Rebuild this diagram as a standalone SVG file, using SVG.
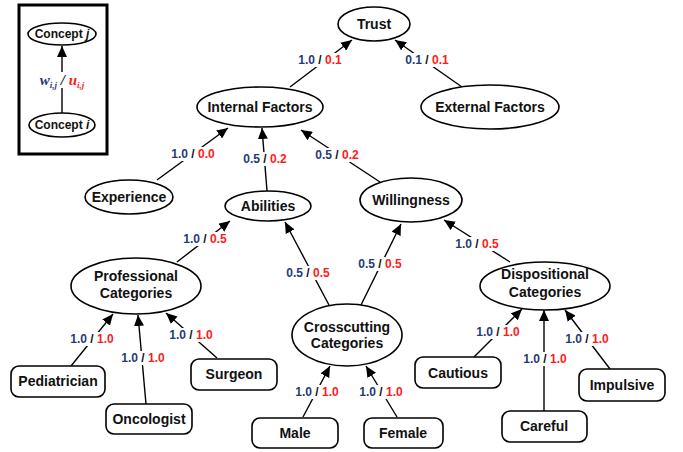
<svg xmlns="http://www.w3.org/2000/svg" width="683" height="452" viewBox="0 0 683 452">
<style>
.n{fill:#fff;stroke:#000;stroke-width:1.6}
.t{font-family:"Liberation Sans",Arial,sans-serif;font-weight:bold;font-size:14px;text-anchor:middle;fill:#111}
.s{font-size:12px}
.e{stroke:#000;stroke-width:1.4;fill:none}
.l{font-family:"Liberation Sans",Arial,sans-serif;font-weight:bold;font-size:12px;text-anchor:middle;fill:#111}
.b{fill:#1f3b78}.r{fill:#ff1a1a}
.bg{fill:#fff}
</style>
<defs>
<marker id="ah" markerUnits="userSpaceOnUse" markerWidth="12" markerHeight="10" refX="11" refY="5" orient="auto"><path d="M0,0 L11,5 L0,10 Z" fill="#000"/></marker>
</defs>
<rect width="683" height="452" fill="#fff"/>
<g id="legend">
<rect x="19" y="5" width="88" height="149" fill="#fff" stroke="#000" stroke-width="3"/>
<line class="e" x1="62" y1="113" x2="62" y2="46" marker-end="url(#ah)"/>
<rect class="bg" x="36" y="72" width="52" height="16"/>
<text x="62" y="85" font-family="'Liberation Serif','Times New Roman',serif" font-weight="bold" font-style="italic" font-size="15" text-anchor="middle"><tspan class="b">w<tspan font-size="9" dy="3">i,j</tspan></tspan><tspan dy="-3" fill="#111"> / </tspan><tspan class="r">u<tspan font-size="9" dy="3">i,j</tspan></tspan></text>
<ellipse class="n" cx="62" cy="34" rx="34" ry="11"/>
<text class="t s" x="62" y="38">Concept <tspan font-style="italic">j</tspan></text>
<ellipse class="n" cx="62" cy="125" rx="33" ry="12"/>
<text class="t s" x="62" y="129">Concept <tspan font-style="italic">i</tspan></text>
</g>
<g id="connectors">
<line class="e" x1="290" y1="87" x2="352" y2="40" marker-end="url(#ah)"/>
<line class="e" x1="462" y1="87" x2="395" y2="40" marker-end="url(#ah)"/>
<line class="e" x1="157" y1="180" x2="228" y2="128" marker-end="url(#ah)"/>
<line class="e" x1="267" y1="191" x2="262" y2="128" marker-end="url(#ah)"/>
<line class="e" x1="380" y1="182" x2="301" y2="130" marker-end="url(#ah)"/>
<line class="e" x1="177" y1="262" x2="230" y2="221" marker-end="url(#ah)"/>
<line class="e" x1="329" y1="305" x2="285" y2="222" marker-end="url(#ah)"/>
<line class="e" x1="361" y1="305" x2="401" y2="224" marker-end="url(#ah)"/>
<line class="e" x1="510" y1="262" x2="444" y2="220" marker-end="url(#ah)"/>
<line class="e" x1="71" y1="366" x2="113" y2="314" marker-end="url(#ah)"/>
<line class="e" x1="146" y1="404" x2="138" y2="315" marker-end="url(#ah)"/>
<line class="e" x1="217" y1="358" x2="166" y2="313" marker-end="url(#ah)"/>
<line class="e" x1="303" y1="417" x2="330" y2="366" marker-end="url(#ah)"/>
<line class="e" x1="397" y1="417" x2="366" y2="366" marker-end="url(#ah)"/>
<line class="e" x1="474" y1="357" x2="522" y2="309" marker-end="url(#ah)"/>
<line class="e" x1="544" y1="411" x2="544" y2="310" marker-end="url(#ah)"/>
<line class="e" x1="610" y1="369" x2="565" y2="310" marker-end="url(#ah)"/>
</g>
<g id="labels">
<rect class="bg" x="297" y="53" width="47" height="14"/><text class="l" x="320" y="64"><tspan class="b">1.0</tspan> / <tspan class="r">0.1</tspan></text>
<rect class="bg" x="404" y="53" width="47" height="14"/><text class="l" x="427" y="64"><tspan class="b">0.1</tspan> / <tspan class="r">0.1</tspan></text>
<rect class="bg" x="170" y="147" width="47" height="14"/><text class="l" x="193" y="158"><tspan class="b">1.0</tspan> / <tspan class="r">0.0</tspan></text>
<rect class="bg" x="242" y="152" width="47" height="14"/><text class="l" x="265" y="163"><tspan class="b">0.5</tspan> / <tspan class="r">0.2</tspan></text>
<rect class="bg" x="314" y="148" width="47" height="14"/><text class="l" x="337" y="159"><tspan class="b">0.5</tspan> / <tspan class="r">0.2</tspan></text>
<rect class="bg" x="182" y="232" width="47" height="14"/><text class="l" x="205" y="243"><tspan class="b">1.0</tspan> / <tspan class="r">0.5</tspan></text>
<rect class="bg" x="285" y="266" width="47" height="14"/><text class="l" x="308" y="277"><tspan class="b">0.5</tspan> / <tspan class="r">0.5</tspan></text>
<rect class="bg" x="357" y="257" width="47" height="14"/><text class="l" x="380" y="268"><tspan class="b">0.5</tspan> / <tspan class="r">0.5</tspan></text>
<rect class="bg" x="454" y="237" width="47" height="14"/><text class="l" x="477" y="248"><tspan class="b">1.0</tspan> / <tspan class="r">0.5</tspan></text>
<rect class="bg" x="69" y="332" width="47" height="14"/><text class="l" x="92" y="343"><tspan class="b">1.0</tspan> / <tspan class="r">1.0</tspan></text>
<rect class="bg" x="120" y="351" width="47" height="14"/><text class="l" x="143" y="362"><tspan class="b">1.0</tspan> / <tspan class="r">1.0</tspan></text>
<rect class="bg" x="168" y="328" width="47" height="14"/><text class="l" x="191" y="339"><tspan class="b">1.0</tspan> / <tspan class="r">1.0</tspan></text>
<rect class="bg" x="294" y="385" width="47" height="14"/><text class="l" x="317" y="396"><tspan class="b">1.0</tspan> / <tspan class="r">1.0</tspan></text>
<rect class="bg" x="358" y="385" width="47" height="14"/><text class="l" x="381" y="396"><tspan class="b">1.0</tspan> / <tspan class="r">1.0</tspan></text>
<rect class="bg" x="475" y="325" width="47" height="14"/><text class="l" x="498" y="336"><tspan class="b">1.0</tspan> / <tspan class="r">1.0</tspan></text>
<rect class="bg" x="522" y="352" width="47" height="14"/><text class="l" x="545" y="363"><tspan class="b">1.0</tspan> / <tspan class="r">1.0</tspan></text>
<rect class="bg" x="564" y="332" width="47" height="14"/><text class="l" x="587" y="343"><tspan class="b">1.0</tspan> / <tspan class="r">1.0</tspan></text>
</g>
<g id="trust"><ellipse class="n" cx="374" cy="24" rx="36" ry="17"/><text class="t" x="374" y="29">Trust</text></g>
<g id="internal"><ellipse class="n" cx="260" cy="107" rx="63" ry="20"/><text class="t" x="260" y="112">Internal Factors</text></g>
<g id="external"><ellipse class="n" cx="490" cy="107" rx="69" ry="22"/><text class="t" x="490" y="112">External Factors</text></g>
<g id="experience"><ellipse class="n" cx="129" cy="197" rx="44" ry="17"/><text class="t" x="129" y="202">Experience</text></g>
<g id="abilities"><ellipse class="n" cx="268" cy="206" rx="43" ry="15"/><text class="t" x="268" y="211">Abilities</text></g>
<g id="willingness"><ellipse class="n" cx="411" cy="200" rx="51" ry="22"/><text class="t" x="411" y="205">Willingness</text></g>
<g id="professional"><ellipse class="n" cx="136" cy="286" rx="65" ry="28"/><text class="t" x="136" y="281">Professional</text><text class="t" x="136" y="298">Categories</text></g>
<g id="crosscutting"><ellipse class="n" cx="347" cy="335" rx="55" ry="31"/><text class="t" x="347" y="332">Crosscutting</text><text class="t" x="347" y="348">Categories</text></g>
<g id="dispositional"><ellipse class="n" cx="545" cy="286" rx="65" ry="24"/><text class="t" x="545" y="279">Dispositional</text><text class="t" x="545" y="297">Categories</text></g>
<g id="pediatrician"><rect class="n" x="11" y="366" width="94" height="31" rx="8"/><text class="t" x="58" y="386">Pediatrician</text></g>
<g id="oncologist"><rect class="n" x="106" y="404" width="86" height="30" rx="8"/><text class="t" x="149" y="424">Oncologist</text></g>
<g id="surgeon"><rect class="n" x="191" y="359" width="86" height="31" rx="8"/><text class="t" x="234" y="379">Surgeon</text></g>
<g id="male"><rect class="n" x="252" y="418" width="86" height="30" rx="8"/><text class="t" x="295" y="438">Male</text></g>
<g id="female"><rect class="n" x="364" y="418" width="79" height="30" rx="8"/><text class="t" x="403" y="438">Female</text></g>
<g id="cautious"><rect class="n" x="415" y="357" width="86" height="31" rx="8"/><text class="t" x="458" y="378">Cautious</text></g>
<g id="careful"><rect class="n" x="502" y="411" width="85" height="31" rx="8"/><text class="t" x="544" y="431">Careful</text></g>
<g id="impulsive"><rect class="n" x="579" y="369" width="86" height="32" rx="8"/><text class="t" x="622" y="390">Impulsive</text></g>
</svg>
